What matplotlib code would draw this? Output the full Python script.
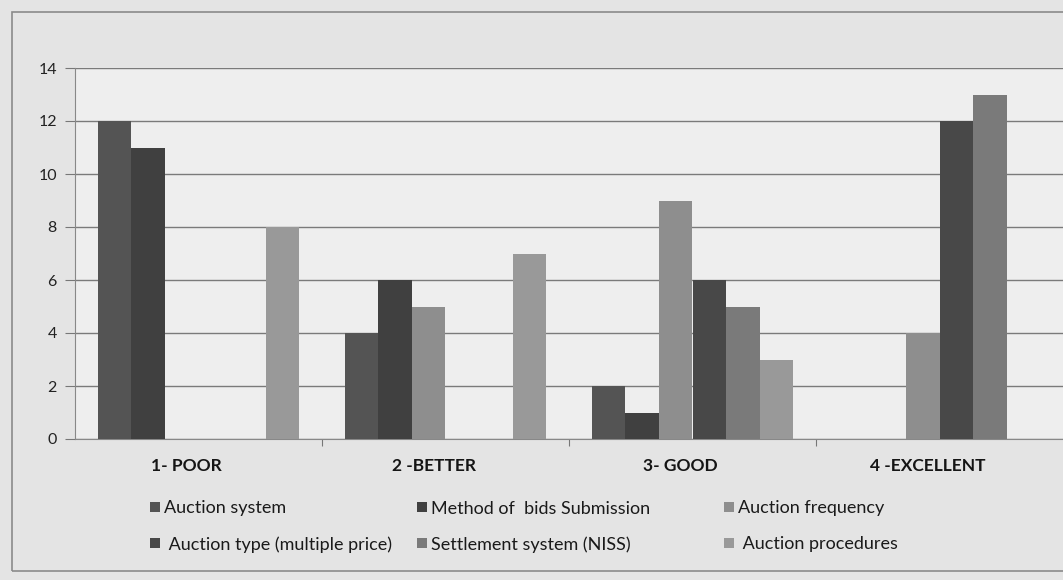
import matplotlib
matplotlib.use("Agg")
import matplotlib.pyplot as plt
from matplotlib.patches import Rectangle
from matplotlib.transforms import offset_copy
import numpy as np

plt.rcParams['font.family'] = ['Lato', 'DejaVu Sans']

categories = ["1- POOR", "2 -BETTER", "3- GOOD", "4 -EXCELLENT"]
series_names = ["Auction system", "Method of  bids Submission", "Auction frequency",
                " Auction type (multiple price)", "Settlement system (NISS)", " Auction procedures"]
auction_system = [12, 4, 2, 0]
bids_submission = [11, 6, 1, 0]
auction_frequency = [0, 5, 9, 4]
auction_type = [0, 0, 6, 12]
settlement_system = [0, 0, 5, 13]
auction_procedures = [8, 7, 3, 0]
y_ticks = [0, 2, 4, 6, 8, 10, 12, 14]

series_values = [auction_system, bids_submission, auction_frequency,
                 auction_type, settlement_system, auction_procedures]
colors = ["#545454", "#404040", "#8e8e8e", "#484848", "#7a7a7a", "#999999"]

W, H = 1063, 580
fig = plt.figure(figsize=(W / 100, H / 100), dpi=100, facecolor="#e4e4e4")
ax = fig.add_axes([75 / W, 1 - 439 / H, 1 - 75 / W, (439 - 68) / H])
ax.set_facecolor("#eeeeee")

# outer chart frame
fig.patches.append(Rectangle((12 / W, 1 - 571 / H), 1.0, (571 - 12) / H,
                             transform=fig.transFigure, fill=False,
                             edgecolor="#8a8a8a", linewidth=1.2, zorder=0))

x = np.arange(len(categories))
n = len(series_values)
w = 0.136
for i, (vals, c) in enumerate(zip(series_values, colors)):
    ax.bar(x + (i - (n - 1) / 2) * w, vals, width=w, color=c, linewidth=0, zorder=3)

ax.set_xlim(-0.5, len(categories) - 0.5)
ax.set_ylim(0, 14)
ax.set_yticks(y_ticks)
ax.tick_params(axis="y", labelsize=11.5, length=7, color="#777777", pad=6, labelcolor="#222222")
ax.yaxis.grid(True, color="#7a7a7a", linewidth=1.0, zorder=1)
ax.set_axisbelow(True)

# category ticks at group boundaries, names under each group
ax.set_xticks(np.arange(0.5, len(categories) - 0.5, 1.0))
ax.set_xticklabels([])
ax.tick_params(axis="x", length=5, color="#777777", direction="out")
ax.set_xticks(x, minor=True)
ax.set_xticklabels(categories, minor=True, fontsize=12.5, fontweight="bold", color="#151515")
ax.tick_params(axis="x", which="minor", length=0, pad=14)
for lab in ax.get_xticklabels(minor=True):
    lab.set_transform(offset_copy(lab.get_transform(), fig=fig, x=-12, y=0, units="dots"))

for side in ["top", "right"]:
    ax.spines[side].set_visible(False)
ax.spines["left"].set_color("#888888")
ax.spines["bottom"].set_color("#888888")

# legend: two rows of three entries
col_x = [150, 417, 724]
row_y = [507, 543]
sq = 10
for i, (name, c) in enumerate(zip(series_names, colors)):
    r, k = divmod(i, 3)
    px, py = col_x[k], row_y[r]
    fig.patches.append(Rectangle((px / W, 1 - (py + sq / 2) / H), sq / W, sq / H,
                                 transform=fig.transFigure, facecolor=c,
                                 edgecolor="none"))
    fig.text((px + sq + 4) / W, 1 - py / H, name, fontsize=13, color="#1a1a1a",
             ha="left", va="center_baseline")

fig.savefig("out.png", dpi=100, facecolor=fig.get_facecolor())
